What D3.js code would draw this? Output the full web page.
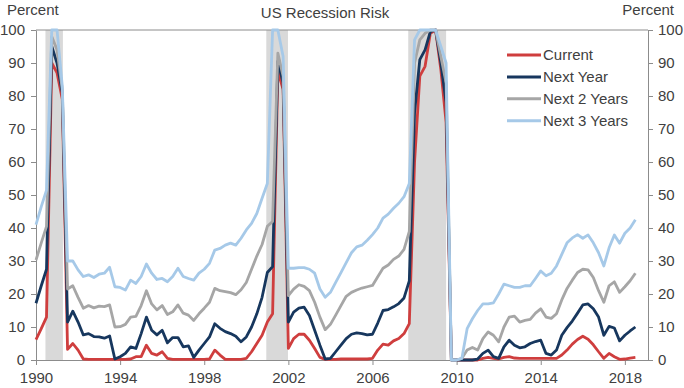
<!DOCTYPE html>
<html><head><meta charset="utf-8">
<script src="https://cdn.jsdelivr.net/npm/d3@7"></script>
<style>
body{margin:0;background:#fff;}
svg{display:block;}
text{font-family:"Liberation Sans",Arial,sans-serif;}
</style>
</head><body>
<svg id="chart" width="684" height="388"></svg>
<script>
// ---------------- DATA ----------------
const quarters = [
"1990Q1","1990Q2","1990Q3","1990Q4","1991Q1","1991Q2","1991Q3","1991Q4",
"1992Q1","1992Q2","1992Q3","1992Q4","1993Q1","1993Q2","1993Q3","1993Q4",
"1994Q1","1994Q2","1994Q3","1994Q4","1995Q1","1995Q2","1995Q3","1995Q4",
"1996Q1","1996Q2","1996Q3","1996Q4","1997Q1","1997Q2","1997Q3","1997Q4",
"1998Q1","1998Q2","1998Q3","1998Q4","1999Q1","1999Q2","1999Q3","1999Q4",
"2000Q1","2000Q2","2000Q3","2000Q4","2001Q1","2001Q2","2001Q3","2001Q4",
"2002Q1","2002Q2","2002Q3","2002Q4","2003Q1","2003Q2","2003Q3","2003Q4",
"2004Q1","2004Q2","2004Q3","2004Q4","2005Q1","2005Q2","2005Q3","2005Q4",
"2006Q1","2006Q2","2006Q3","2006Q4","2007Q1","2007Q2","2007Q3","2007Q4",
"2008Q1","2008Q2","2008Q3","2008Q4","2009Q1","2009Q2","2009Q3","2009Q4",
"2010Q1","2010Q2","2010Q3","2010Q4","2011Q1","2011Q2","2011Q3","2011Q4",
"2012Q1","2012Q2","2012Q3","2012Q4","2013Q1","2013Q2","2013Q3","2013Q4",
"2014Q1","2014Q2","2014Q3","2014Q4","2015Q1","2015Q2","2015Q3","2015Q4",
"2016Q1","2016Q2","2016Q3","2016Q4","2017Q1","2017Q2","2017Q3","2017Q4",
"2018Q1","2018Q2","2018Q3"
];

const current = [
6.2,9.5,13,90, 87,79,3.2,5, 3,0.3,0.2,0.2, 0.2,0.2,0.2,0.2,
0.2,0.2,0.3,1, 1,4.5,2,1.5, 2.5,0.5,0.2,0.2, 0.2,0.2,0.2,0.2,
0.2,0.3,3,1.5, 0.2,0.2,0.2,0.2, 0.5,2.5,5,7.5, 11.5,14,87.5,82,
3.5,6.5,7.8,7.8, 6,3.5,0.8,0.2, 0.2,0.2,0.3,0.3, 0.3,0.3,0.3,0.3,
0.5,3,4.8,4.5, 5.8,6.5,8,11, 60,86,89,99, 100,88,72,0,
0,0,0,0, 0,0.5,0.8,0.5, 0.3,0.8,1,0.6, 0.5,0.5,0.5,0.5,
0.5,0.5,0.5,0.5, 1.5,3,4.8,6.2, 7.2,6.3,4.6,2.5, 0.5,2,1,0.2,
0.3,0.6,0.8
];

const nextYear = [
17.2,22.5,27.5,95, 90,81,11.5,14.8, 11.5,7.6,8,7.1, 7,6.6,7.3,0.3,
1,2,4,3.5, 8,13,9,7.6, 9,5.2,6.8,6.8, 4,4.3,0.8,3,
5,7,11,9.6, 8.6,8,7.2,5.5, 7,10,14,19, 26.5,28.3,90.5,84,
11.5,14.5,15.7,16, 13.5,9,4.5,0.3, 0.5,2.5,4.5,6.5, 7.8,8.2,8,7.6,
7.8,11.2,15,15.3, 16.1,17.1,18.8,24, 75,91,94,99.5, 100,90,78,0,
0,0,0,0, 0.3,2,3,1, 0.5,4,6,4.5, 3.7,4,5,5.6,
6,2,1.5,3, 7.5,9.8,11.8,14.2, 16.7,17,15.5,13, 7.5,10.2,9.7,5.8,
7.5,8.8,10
];

const next2Years = [
30.3,35.5,40.5,98, 94,82,21.5,22.5, 19,15.7,16.5,15.8, 16.3,16.2,16.7,10,
10.1,10.8,13,13.2, 16.5,21,17,15.2, 16.5,13.8,14.6,16.7, 14.2,13.6,12,14,
15.7,17.5,21.7,21, 20.7,20.4,19.8,21.3, 23.5,27.5,31.5,35, 40.5,42,93,86,
19.5,21.5,22.8,22.3, 21,17.5,13,9.2, 10.8,13.6,16.5,19.3, 20.5,21.2,21.8,22.2,
22.6,25.2,27.8,28.8, 30.5,31.5,33.5,39, 90,97,99,100, 100,92,84,0,
0,0.5,3,3.8, 3,6.5,8.5,7.5, 5.5,10,13,13.3, 11.5,12,12.3,14.2,
15.5,13,12.6,14, 18.2,21.7,24.2,26.5, 27.5,27.3,25,21, 17.5,22.5,23.7,20.5,
22.2,24,26.3
];

const next3Years = [
41,46.5,51.5,100, 100,83,30,30, 27.3,25.3,25.8,25, 26,26.3,28.1,22.2,
22,21.2,24.2,23.2, 25.3,29.1,26.3,24.4, 24.7,23.7,25.3,27.8, 25.3,24.7,24.2,26.3,
27.5,29.3,33.3,33.8, 34.8,35.4,34.8,36.9, 39.4,41.4,44.4,49, 53.5,100,100,92,
27.8,27.8,28,28, 27.5,26.3,21.5,19, 20.5,23.5,26.5,29.5, 32.5,34.3,34.8,36.3,
38,40,43,44.2, 46,47.5,49.5,53.5, 97,100,100,100, 100,95,90,0,
0,0.5,9.5,12.5, 15,17,17,17.3, 20,23,22.5,22, 22,22.5,22.5,24.7,
27,25.5,26.3,28.5, 32,35.5,37,38, 36.9,37.9,35.5,32.5, 28.5,34,37.9,35.4,
38.4,40,42.5
];

const seriesNames = ["Current","Next Year","Next 2 Years","Next 3 Years"];
const seriesColors = ["#cf3e3e","#17375e","#a6a6a6","#a6c9e8"];
const recessions = [[1990.45,1991.28],[2000.95,2001.98],[2007.7,2009.5]];
const yTicks = [0,10,20,30,40,50,60,70,80,90,100];
const xTicks = [1990,1994,1998,2002,2006,2010,2014,2018];
const chartTitle = "US Recession Risk";
const unitLabel = "Percent";

// ---------------- CHART ----------------
const svg = d3.select("#chart");
const plot = {left:36, right:648, top:30, bottom:360};
const x = d3.scaleLinear().domain([1990, 2019.1]).range([plot.left, plot.right]);
const y = d3.scaleLinear().domain([0, 100]).range([plot.bottom, plot.top]);
const tOf = q => +q.slice(0,4) + (+q.slice(5) - 1) / 4;

const axisColor = "#8c8c8c";
const textColor = "#404040";

// recession shading
svg.append("g").selectAll("rect").data(recessions).join("rect")
  .attr("x", d => x(d[0])).attr("width", d => x(d[1]) - x(d[0]))
  .attr("y", y(100)).attr("height", y(0) - y(100))
  .attr("fill", "#d9d9d9");

// top border
svg.append("line").attr("x1", x.range()[0]).attr("x2", x.range()[1])
  .attr("y1", y(100)).attr("y2", y(100)).attr("stroke", axisColor).attr("stroke-width", 1);

function styleAxis(g){
  g.select(".domain").attr("stroke", axisColor);
  g.selectAll(".tick line").attr("stroke", axisColor);
  g.selectAll(".tick text").attr("fill", textColor).style("font-size", "15px")
    .style("font-family", '"Liberation Sans",Arial,sans-serif');
}

svg.append("g").attr("transform", `translate(${plot.left},0)`)
  .call(d3.axisLeft(y).tickValues(yTicks).tickSize(5).tickSizeOuter(0).tickPadding(6))
  .call(styleAxis);
svg.append("g").attr("transform", `translate(${plot.right},0)`)
  .call(d3.axisRight(y).tickValues(yTicks).tickSize(5).tickSizeOuter(0).tickPadding(5))
  .call(styleAxis);
svg.append("g").attr("transform", `translate(0,${plot.bottom})`)
  .call(d3.axisBottom(x).tickValues(xTicks).tickFormat(d3.format("d")).tickSize(5).tickSizeOuter(0).tickPadding(7))
  .call(styleAxis);

// lines
const allSeries = [current, nextYear, next2Years, next3Years];
const line = d3.line().x((d,i) => x(tOf(quarters[i]))).y(d => y(d));
svg.append("g").selectAll("path").data(allSeries).join("path")
  .attr("d", d => line(d))
  .attr("fill", "none")
  .attr("stroke", (d,i) => seriesColors[i])
  .attr("stroke-width", 2.8)
  .attr("stroke-linejoin", "round");

// titles
svg.append("text").attr("x", 325).attr("y", 18).attr("text-anchor", "middle")
  .attr("fill", textColor).style("font-size", "15px").text(chartTitle);
svg.append("text").attr("x", 7).attr("y", 15)
  .attr("fill", textColor).style("font-size", "15px").text(unitLabel);
svg.append("text").attr("x", 674).attr("y", 15).attr("text-anchor", "end")
  .attr("fill", textColor).style("font-size", "15px").text(unitLabel);

// legend
const lg = svg.append("g").attr("transform", "translate(507,55)");
seriesNames.forEach((name, i) => {
  const g = lg.append("g").attr("transform", `translate(0,${i * 21.9})`);
  g.append("line").attr("x1", 0).attr("x2", 34).attr("y1", 0).attr("y2", 0)
    .attr("stroke", seriesColors[i]).attr("stroke-width", 3);
  g.append("text").attr("x", 36).attr("y", 0).attr("dy", "0.35em")
    .attr("fill", textColor).style("font-size", "15px").text(name);
});
</script>
</body></html>
